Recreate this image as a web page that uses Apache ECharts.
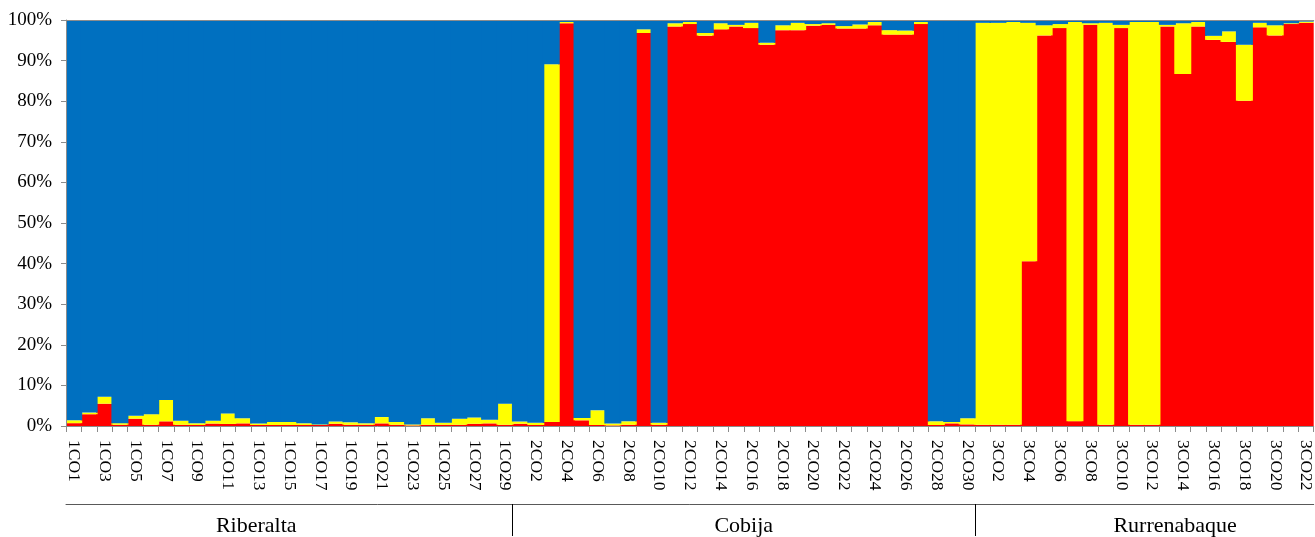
<!DOCTYPE html>
<html>
<head>
<meta charset="utf-8">
<style>
  html, body { margin: 0; padding: 0; background: #fff; }
  #chart { width: 1315px; height: 537px; }
</style>
<script src="https://cdn.jsdelivr.net/npm/echarts@6/dist/echarts.min.js"></script>
</head>
<body>
<div id="chart"></div>
<script>
// Sample labels, grouped by site (Riberalta 29, Cobija 30, Rurrenabaque 22)
const categories = [
  '1CO1','1CO2','1CO3','1CO4','1CO5','1CO6','1CO7','1CO8','1CO9','1CO10',
  '1CO11','1CO12','1CO13','1CO14','1CO15','1CO16','1CO17','1CO18','1CO19','1CO20',
  '1CO21','1CO22','1CO23','1CO24','1CO25','1CO26','1CO27','1CO28','1CO29',
  '2CO1','2CO2','2CO3','2CO4','2CO5','2CO6','2CO7','2CO8','2CO9','2CO10',
  '2CO11','2CO12','2CO13','2CO14','2CO15','2CO16','2CO17','2CO18','2CO19','2CO20',
  '2CO21','2CO22','2CO23','2CO24','2CO25','2CO26','2CO27','2CO28','2CO29','2CO30',
  '3CO1','3CO2','3CO3','3CO4','3CO5','3CO6','3CO7','3CO8','3CO9','3CO10',
  '3CO11','3CO12','3CO13','3CO14','3CO15','3CO16','3CO17','3CO18','3CO19','3CO20',
  '3CO21','3CO22'
];

// Membership proportions (%) per sample, one array per cluster
const redValues = [
  0.7, 2.9, 5.5, 0.3, 1.8, 0.3, 1.15, 0.3, 0.25, 0.6,
  0.5, 0.65, 0.25, 0.25, 0.25, 0.25, 0.25, 0.55, 0.3, 0.3,
  0.65, 0.3, 0.15, 0.3, 0.3, 0.3, 0.55, 0.65, 0.3,
  0.55, 0.25, 1.0, 99.2, 1.4, 0.25, 0.15, 0.3, 96.8, 0.3,
  98.4, 99.0, 96.15, 97.7, 98.4, 98.0, 93.9, 97.5, 97.5, 98.6,
  98.8, 97.9, 97.9, 98.7, 96.4, 96.4, 99.0, 0.25, 0.65, 0.4,
  0.3, 0.3, 0.3, 40.6, 96.2, 98.0, 1.2, 98.8, 0.3, 98.0,
  0.3, 0.3, 98.4, 86.7, 98.4, 95.1, 94.6, 80.1, 98.2, 96.2,
  99.0, 99.3
];
const yellowValues = [
  0.7, 0.4, 1.7, 0.4, 0.7, 2.6, 5.25, 1.0, 0.4, 0.7,
  2.6, 1.25, 0.35, 0.75, 0.75, 0.4, 0.15, 0.55, 0.6, 0.35,
  1.55, 0.7, 0.25, 1.6, 0.5, 1.5, 1.55, 0.9, 5.2,
  0.55, 0.55, 88.1, 0.3, 0.6, 3.6, 0.45, 0.85, 0.9, 0.5,
  0.8, 0.5, 0.65, 1.5, 0.4, 1.3, 0.5, 1.2, 1.8, 0.4,
  0.4, 0.6, 1.0, 0.8, 1.1, 1.0, 0.5, 0.9, 0.35, 1.5,
  99.0, 99.0, 99.2, 58.7, 2.5, 1.0, 98.3, 0.4, 99.0, 0.8,
  99.2, 99.2, 0.4, 12.5, 1.1, 1.0, 2.6, 13.8, 1.1, 2.5,
  0.2, 0.3
];
const blueValues = [
  98.6, 96.7, 92.8, 99.3, 97.5, 97.1, 93.6, 98.7, 99.35, 98.7,
  96.9, 98.1, 99.4, 99.0, 99.0, 99.35, 99.6, 98.9, 99.1, 99.35,
  97.8, 99.0, 99.6, 98.1, 99.2, 98.2, 97.9, 98.45, 94.5,
  98.9, 99.2, 10.9, 0.5, 98.0, 96.15, 99.4, 98.85, 2.3, 99.2,
  0.8, 0.5, 3.2, 0.8, 1.2, 0.7, 5.6, 1.3, 0.7, 1.0,
  0.8, 1.5, 1.1, 0.5, 2.5, 2.6, 0.5, 98.85, 99.0, 98.1,
  0.7, 0.7, 0.5, 0.7, 1.3, 1.0, 0.5, 0.8, 0.7, 1.2,
  0.5, 0.5, 1.2, 0.8, 0.5, 3.9, 2.8, 6.1, 0.7, 1.3,
  0.8, 0.4
];

// Site groups shown beneath the sample labels
const groupNames = ['Riberalta', 'Cobija', 'Rurrenabaque'];
const groupSizes = [29, 30, 22];

const yTicks = [0, 10, 20, 30, 40, 50, 60, 70, 80, 90, 100];

// Where each site name sits along the group axis, in category units
const groupLabelAt = [12.35, 44, 72];

// Group boundaries, in category units
const groupEdges = [];
let acc = 0;
groupSizes.forEach((n) => {
  acc += n;
  groupEdges.push(acc);
});
groupEdges.pop();
const totalCount = acc;

const FONT = 'Liberation Serif';
const AXIS_GREY = '#8c8c8c';

const chart = echarts.init(document.getElementById('chart'), null, { renderer: 'canvas' });

// Columns are drawn a little wider than their band so neighbours meet without seams
const barSeries = (name, color, values) => ({
  name,
  type: 'bar',
  stack: 'total',
  data: values,
  barWidth: 17,
  itemStyle: { color },
  emphasis: { disabled: true },
  silent: true
});

chart.setOption({
  animation: false,
  grid: { left: 66, right: 0, top: 20, bottom: 110, containLabel: false },
  xAxis: [
    {
      type: 'category',
      data: categories,
      position: 'bottom',
      z: 10,
      axisLine: { lineStyle: { color: AXIS_GREY, width: 1 } },
      axisTick: { show: true, interval: 0, length: 6, lineStyle: { color: AXIS_GREY } },
      axisLabel: {
        interval: 1,
        rotate: -90,
        margin: 14,
        color: '#000',
        fontFamily: FONT,
        fontSize: 17.5
      },
      splitLine: { show: false }
    },
    {
      type: 'value',
      position: 'bottom',
      offset: 78,
      min: 0,
      max: totalCount,
      axisLine: { show: true, lineStyle: { color: '#595959', width: 1 } },
      axisTick: {
        show: true,
        customValues: groupEdges,
        length: 32,
        lineStyle: { color: '#000', width: 1 }
      },
      axisLabel: {
        show: true,
        customValues: groupLabelAt,
        margin: 11,
        color: '#000',
        fontFamily: FONT,
        fontSize: 22,
        formatter: (v) => {
          const i = groupLabelAt.findIndex((c) => Math.abs(c - v) < 1e-6);
          return i >= 0 ? groupNames[i] : '';
        }
      },
      splitLine: { show: false }
    },
    {
      type: 'category',
      data: categories,
      position: 'top',
      z: 10,
      axisLine: { lineStyle: { color: AXIS_GREY, width: 1 } },
      axisTick: { show: false },
      axisLabel: { show: false },
      splitLine: { show: false }
    }
  ],
  yAxis: {
    type: 'value',
    min: yTicks[0],
    max: yTicks[yTicks.length - 1],
    interval: 10,
    z: 10,
    axisLine: { show: true, lineStyle: { color: AXIS_GREY, width: 1 } },
    axisTick: { show: true, length: 5, lineStyle: { color: AXIS_GREY } },
    axisLabel: {
      margin: 14,
      color: '#000',
      fontFamily: FONT,
      fontSize: 19,
      formatter: '{value}%'
    },
    splitLine: { show: false }
  },
  series: [
    barSeries('red', '#ff0000', redValues),
    barSeries('yellow', '#ffff00', yellowValues),
    barSeries('blue', '#0070c0', blueValues)
  ]
});
</script>
</body>
</html>
